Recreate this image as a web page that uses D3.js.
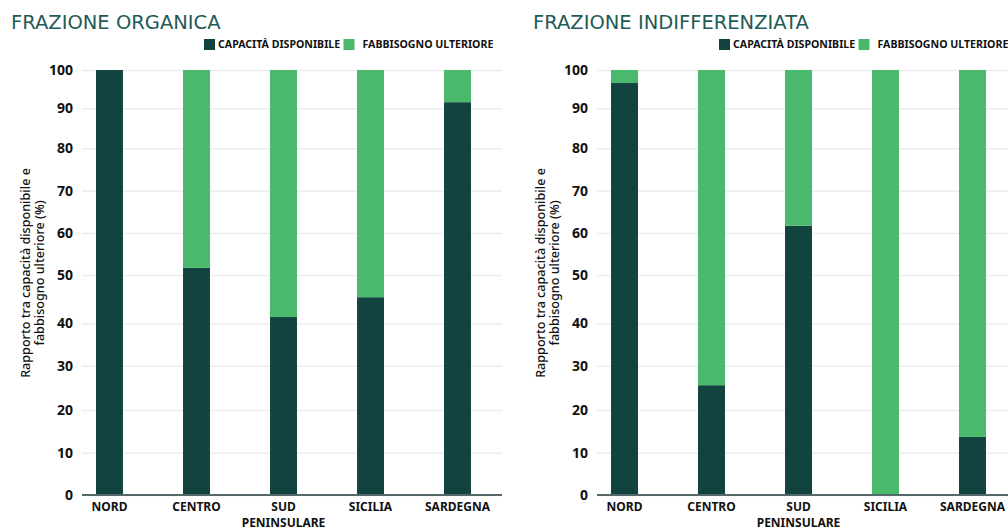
<!DOCTYPE html>
<html>
<head>
<meta charset="utf-8">
<script src="https://cdn.jsdelivr.net/npm/d3@7/dist/d3.min.js"></script>
<style>
  body { margin: 0; background: #fff; }
  .titolo { font-family: "DejaVu Sans", sans-serif; font-size: 19.5px; fill: #1f5a55; }
  .legenda text { font-family: "Noto Sans", sans-serif; font-weight: 700; font-size: 10.6px; fill: #111; }
  .assey text { font-family: "Noto Sans", sans-serif; font-weight: 700; font-size: 14px; fill: #111; }
  .assex text { font-family: "Noto Sans", sans-serif; font-weight: 700; font-size: 12px; fill: #111; }
  .etichetta { font-family: "Noto Sans", sans-serif; font-size: 12.6px; font-weight: 500; fill: #111; }
</style>
</head>
<body>
<div id="grafico"></div>
<script>
// dati (%)
const regioni = ["NORD", "CENTRO", "SUD PENINSULARE", "SICILIA", "SARDEGNA"];
const organicaCapacita = [100, 51.7, 41.3, 45.4, 91.6];
const organicaFabbisogno = [0, 48.3, 58.7, 54.6, 8.4];
const indiffCapacita = [96.6, 25.6, 61.7, 0, 13.7];
const indiffFabbisogno = [3.4, 74.4, 38.3, 100, 86.3];
const yTicks = [0, 10, 20, 30, 40, 50, 60, 70, 80, 90, 100];
const serieNomi = ["CAPACITÀ DISPONIBILE", "FABBISOGNO ULTERIORE"];
const colori = ["#13433f", "#4ab96c"];

const larghezza = 1008;
const altezza = 531;

const svg = d3.select("#grafico")
  .append("svg")
  .attr("width", larghezza)
  .attr("height", altezza)
  .style("display", "block");

// area del grafico dentro ogni pannello
const plotLeft = 82;
const plotRight = 502;

// scala y: la griglia del riferimento non è perfettamente regolare
const y = d3.scaleLinear()
  .domain(yTicks)
  .range([495, 452.7, 410, 365.7, 323.3, 275, 233, 190.7, 148.3, 108.3, 70]);

const x = d3.scaleBand()
  .domain(regioni)
  .range([66, 501])
  .paddingInner(0.69)
  .paddingOuter(0.345);

const disegnaPannello = (offsetX, titoloX, titolo, capacita, fabbisogno) => {
  const g = svg.append("g").attr("transform", `translate(${offsetX},0)`);

  g.append("text")
    .attr("class", "titolo")
    .attr("x", titoloX)
    .attr("y", 29)
    .text(titolo);

  // legenda
  const legenda = g.append("g").attr("class", "legenda");
  const legX = [[204, 218], [343.5, 362.5]];
  serieNomi.forEach((nome, i) => {
    legenda.append("rect")
      .attr("x", legX[i][0]).attr("y", 39)
      .attr("width", 11).attr("height", 11)
      .attr("fill", colori[i]);
    legenda.append("text")
      .attr("x", legX[i][1]).attr("y", 48)
      .text(nome);
  });

  // griglia e etichette asse y
  const assey = g.append("g")
    .attr("class", "assey")
    .attr("transform", `translate(${plotLeft},0)`)
    .call(d3.axisLeft(y).tickValues(yTicks).tickSize(-(plotRight - plotLeft)).tickPadding(9));
  assey.select(".domain").remove();
  assey.selectAll("line").attr("stroke", "#ebeeee").attr("stroke-width", 1.5);

  // barre impilate
  const dati = regioni.map((r, i) => ({ regione: r, capacita: capacita[i], fabbisogno: fabbisogno[i] }));
  const serie = d3.stack().keys(["capacita", "fabbisogno"])(dati);

  g.append("g")
    .selectAll("g")
    .data(serie)
    .join("g")
    .attr("fill", (d, i) => colori[i])
    .selectAll("rect")
    .data((d) => d)
    .join("rect")
    .attr("x", (d) => x(d.data.regione))
    .attr("width", x.bandwidth())
    .attr("y", (d) => y(d[1]))
    .attr("height", (d) => y(d[0]) - y(d[1]));

  // asse x
  const assex = g.append("g")
    .attr("class", "assex")
    .attr("transform", `translate(0,${y(0)})`)
    .call(d3.axisBottom(x).tickSize(0).tickPadding(7));
  assex.select(".domain").remove();
  assex.append("line")
    .attr("x1", plotLeft).attr("x2", plotRight)
    .attr("stroke", "#55696b").attr("stroke-width", 2);
  assex.selectAll(".tick text").each(function (d) {
    const t = d3.select(this);
    const parole = d.split(" ");
    t.text(null).attr("dy", null);
    parole.forEach((p, i) => {
      t.append("tspan").attr("x", 0).attr("dy", i === 0 ? "0.71em" : "1.37em").text(p);
    });
  });

  // titolo asse y
  const ety = g.append("text")
    .attr("class", "etichetta")
    .attr("transform", "translate(30,273) rotate(-90)")
    .attr("text-anchor", "middle");
  ety.append("tspan").attr("x", 0).attr("dy", 0).text("Rapporto tra capacità disponibile e");
  ety.append("tspan").attr("x", 0).attr("dy", 14).text("fabbisogno ulteriore (%)");
};

disegnaPannello(0, 11, "FRAZIONE ORGANICA", organicaCapacita, organicaFabbisogno);
disegnaPannello(515, 18, "FRAZIONE INDIFFERENZIATA", indiffCapacita, indiffFabbisogno);
</script>
</body>
</html>
